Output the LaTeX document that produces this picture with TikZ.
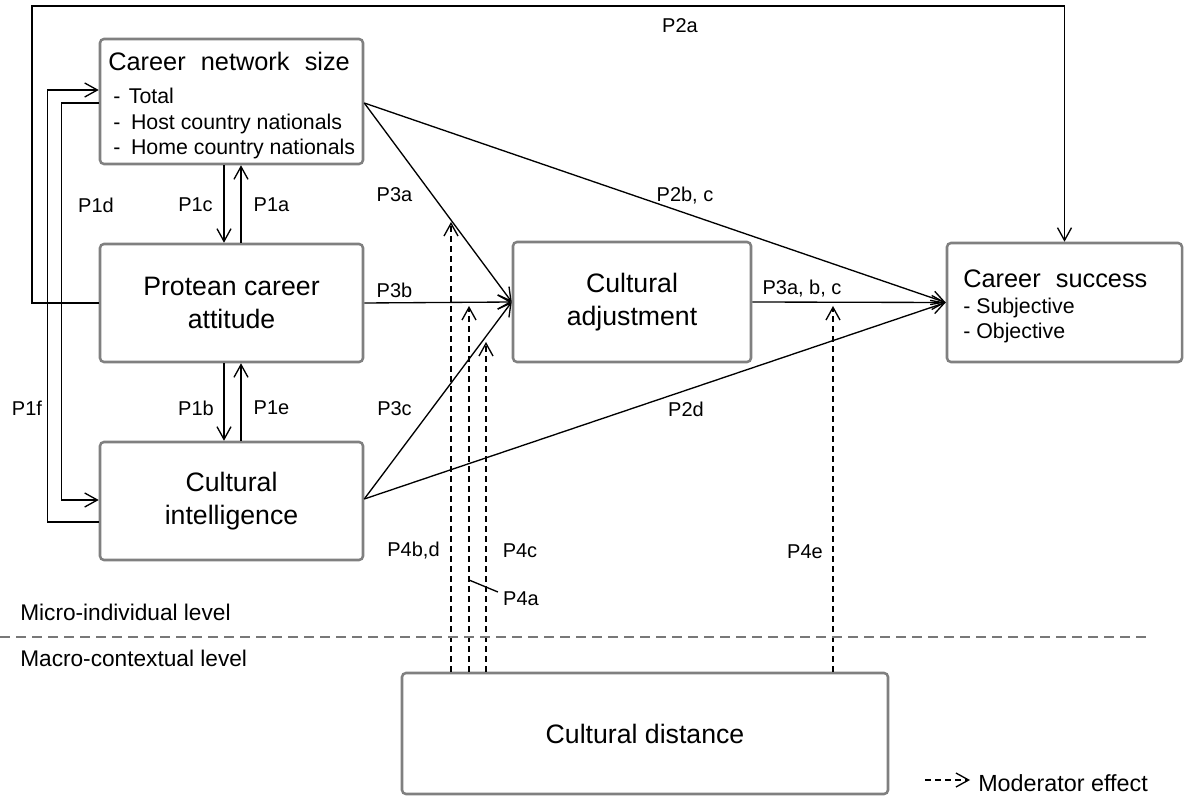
\documentclass[tikz,border=0pt]{standalone}
\usepackage{fontspec}
\setmainfont{Liberation Sans}
\usetikzlibrary{arrows.meta,calc}
\definecolor{boxgray}{RGB}{128,128,128}
\definecolor{sepgray}{RGB}{120,120,120}
\begin{document}
\begin{tikzpicture}[x=0.75pt,y=-0.75pt,
  box/.style={draw=boxgray,line width=1.9pt,rounded corners=3pt,inner sep=0pt,align=center,font=\fontsize{20}{24.75}\selectfont},
  conn/.style={line width=1pt,-{Straight Barb[length=9.5pt,width=10.5pt]}},
  plainline/.style={line width=1pt},
  mod/.style={conn,dash pattern=on 4.5pt off 3pt},
  sepline/.style={draw=sepgray,line width=1.1pt,dash pattern=on 7.5pt off 4.5pt},
  lab/.style={inner sep=0pt,font=\fontsize{15}{18}\selectfont},
  titletext/.style={anchor=base west,inner sep=0pt,font=\fontsize{19}{22}\selectfont},
  itemtext/.style={anchor=base west,inner sep=0pt,font=\fontsize{16}{19}\selectfont},
  leveltext/.style={anchor=west,inner sep=0pt,font=\fontsize{17}{20}\selectfont}]
\useasboundingbox (0,0) rectangle (1184,798);

% boxes
\node[box,minimum width=197.25pt,minimum height=93.75pt] (cns) at (231.5,101.5) {};
\node[box,minimum width=197.25pt,minimum height=88.5pt] (pca) at (231.5,303) {Protean career\\attitude};
\node[box,minimum width=197.25pt,minimum height=88.5pt] (cq) at (231.5,501) {Cultural\\intelligence};
\node[box,minimum width=178.5pt,minimum height=90pt] (ca) at (632,302) {Cultural\\adjustment};
\node[box,minimum width=176.25pt,minimum height=89.25pt] (cs) at (1064.5,302.5) {};
\node[box,minimum width=364.5pt,minimum height=90.75pt] (cd) at (645,733.5) {Cultural distance};

% box texts
\node[titletext] (cnsT) at (108,71) {Career\hspace{0.6em}network\hspace{0.6em}size};
\node[itemtext] (cns1) at (113,104) {-\hspace{0.4em}Total};
\node[itemtext] (cns2) at (113,130) {-\hspace{0.5em}Host country nationals};
\node[itemtext] (cns3) at (113,155) {-\hspace{0.5em}Home country nationals};
\node[titletext] (csT) at (963,288) {Career\hspace{0.6em}success};
\node[itemtext] (cs1) at (963,314) {- Subjective};
\node[itemtext] (cs2) at (963,339) {- Objective};

% top loop P2a
\coordinate (loopTL) at (32,6);
\draw[conn] (pca.west) -| (loopTL) -| (cs.north);

% P1f and P1d loops
\draw[conn] ($(cq.west)+(0,21)$) -| ($(cns.west)+(-51,-11.5)$) -- ($(cns.west)+(0,-11.5)$);
\draw[conn] ($(cns.west)+(0,1.5)$) -| ($(cq.west)+(-37,-1)$) -- ($(cq.west)+(0,-1)$);

% vertical pairs
\draw[conn] ($(cns.south)+(-7.5,0)$) -- ($(pca.north)+(-7.5,0)$);
\draw[conn] ($(pca.north)+(9.5,0)$) -- ($(cns.south)+(9.5,0)$);
\draw[conn] ($(pca.south)+(-7.5,0)$) -- ($(cq.north)+(-7.5,0)$);
\draw[conn] ($(cq.north)+(9.5,0)$) -- ($(pca.south)+(9.5,0)$);

% main paths
\draw[conn] ($(cns.east)+(0,1.5)$) -- (ca.west);
\draw[conn] ($(cns.east)+(0,1.5)$) -- (cs.west);
\draw[conn] (pca.east) -- (ca.west);
\draw[conn] ($(cq.east)+(0,-2)$) -- (ca.west);
\draw[conn] ($(cq.east)+(0,-2)$) -- (cs.west);
\draw[conn] (ca.east) -- (cs.west);

% moderator arrows
\coordinate (t1) at (451,222);
\coordinate (t2) at (469,306);
\coordinate (t3) at (486,342);
\coordinate (t4) at (833,306);
\draw[mod] (t1 |- cd.north) -- (t1);
\draw[mod] (t2 |- cd.north) -- (t2);
\draw[mod] (t3 |- cd.north) -- (t3);
\draw[mod] (t4 |- cd.north) -- (t4);

% labels
\node[lab] (p2a) at (680,26) {P2a};
\node[lab] (p1d) at (96,205) {P1d};
\node[lab] (p1c) at (195.5,205) {P1c};
\node[lab] (p1a) at (271.5,205) {P1a};
\node[lab] (p1f) at (27,408) {P1f};
\node[lab] (p1b) at (196,408) {P1b};
\node[lab] (p1e) at (271.5,408) {P1e};
\node[lab] (p3a) at (394.5,195) {P3a};
\node[lab] (p3b) at (394.5,290) {P3b};
\node[lab] (p3c) at (394.5,409) {P3c};
\node[lab] (p2bc) at (685,196) {P2b, c};
\node[lab] (p2d) at (686,409) {P2d};
\node[lab] (p3abc) at (802,289) {P3a, b, c};
\node[lab] (p4bd) at (413.5,551) {P4b,d};
\node[lab] (p4c) at (520,551) {P4c};
\node[lab] (p4a) at (521,599) {P4a};
\node[lab] (p4e) at (805,552) {P4e};

% P4a leader
\coordinate (lead) at (469,580);
\draw[plainline] (lead) -- ($(p4a.west)+(-5,-7)$);

% level separator
\coordinate (sepL) at (0,637);
\coordinate (sepR) at (1150,637);
\draw[sepline] (sepL) -- (sepR);
\node[leveltext] (micro) at (20,612.5) {Micro-individual level};
\node[leveltext] (macro) at (20,658.5) {Macro-contextual level};

% legend
\node[anchor=west,inner sep=0pt,font=\fontsize{17.5}{20}\selectfont] (leg) at (978,783) {Moderator effect};
\draw[mod] ($(leg.west)+(-53,-3)$) -- ($(leg.west)+(-8,-3)$);
\end{tikzpicture}
\end{document}
